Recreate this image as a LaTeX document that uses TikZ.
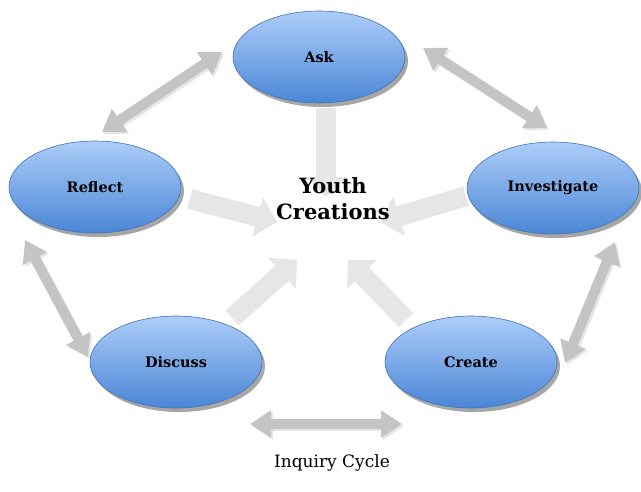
\documentclass[tikz,border=0pt]{standalone}
\usepackage{fontspec}
\newfontfamily\lblfont{DejaVu Serif}
\usetikzlibrary{shapes.geometric,shadows,arrows.meta}
\definecolor{ellborder}{HTML}{4273B8}
\definecolor{elltop}{HTML}{ADCDF8}
\definecolor{ellbot}{HTML}{4A86D6}
\definecolor{dblgray}{HTML}{C4C4C4}
\definecolor{sglgray}{HTML}{E6E6E6}
\tikzset{
  stage/.style={ellipse, draw=ellborder, line width=0.6pt, top color=elltop, bottom color=ellbot,
    minimum width=172pt, minimum height=92pt, inner sep=0pt,
    font=\lblfont\bfseries\fontsize{14.5}{17}\selectfont,
    drop shadow={shadow xshift=3pt, shadow yshift=-4pt, fill=black, opacity=0.35}},
  dbl/.style={line width=10pt, draw=dblgray, {Triangle[length=21pt,width=26pt]}-{Triangle[length=21pt,width=26pt]}},
  dblshade/.style={line width=10pt, draw=black, opacity=0.10, {Triangle[length=21pt,width=26pt]}-{Triangle[length=21pt,width=26pt]}},
  sgl/.style={line width=20pt, draw=sglgray, -{Triangle[length=20pt,width=40pt]}},
}
\newcommand\dblarrow[2]{\draw[dblshade] ([shift={(2,2)}]#1) -- ([shift={(2,2)}]#2);
  \draw[dbl] (#1) -- (#2);}
\begin{document}
\begin{tikzpicture}[x=1pt,y=-1pt]
\useasboundingbox[fill=white] (0,0) rectangle (641,491);
% named arrow end points
\coordinate (ra1) at (102,132); \coordinate (ra2) at (222,52);
\coordinate (ai1) at (423,48);  \coordinate (ai2) at (547,128);
\coordinate (ic1) at (615,242); \coordinate (ic2) at (565,363);
\coordinate (dc1) at (250,424); \coordinate (dc2) at (402,424);
\coordinate (rd1) at (25,240);  \coordinate (rd2) at (88,357);
\coordinate (as1) at (326,108); \coordinate (as2) at (326,197);
\coordinate (rs1) at (190,199); \coordinate (rs2) at (277,222);
\coordinate (is1) at (466,196); \coordinate (is2) at (380,222);
\coordinate (ds1) at (232,318); \coordinate (ds2) at (297,260);
\coordinate (cs1) at (406,320); \coordinate (cs2) at (348,260);
% arrows toward centre
\draw[sgl] (as1) -- (as2);
\draw[sgl] (rs1) -- (rs2);
\draw[sgl] (is1) -- (is2);
\draw[sgl] (ds1) -- (ds2);
\draw[sgl] (cs1) -- (cs2);
% stages
\node[stage] (ask) at (319,57) {Ask};
\node[stage] (reflect) at (95,187) {Reflect};
\node[stage] (investigate) at (553,188) {Investigate};
\node[stage] (discuss) at (176,362) {Discuss};
\node[stage] (create) at (471,362) {Create};
% double arrows
\dblarrow{ra1}{ra2}
\dblarrow{ai1}{ai2}
\dblarrow{ic1}{ic2}
\dblarrow{dc1}{dc2}
\dblarrow{rd1}{rd2}
% centre text
\node[font=\lblfont\bfseries\fontsize{21}{26}\selectfont, align=center] (youth) at (333,199) {Youth\\Creations};
% caption
\node[font=\lblfont\fontsize{17}{20}\selectfont] (caption) at (332,463) {Inquiry Cycle};
\end{tikzpicture}
\end{document}
